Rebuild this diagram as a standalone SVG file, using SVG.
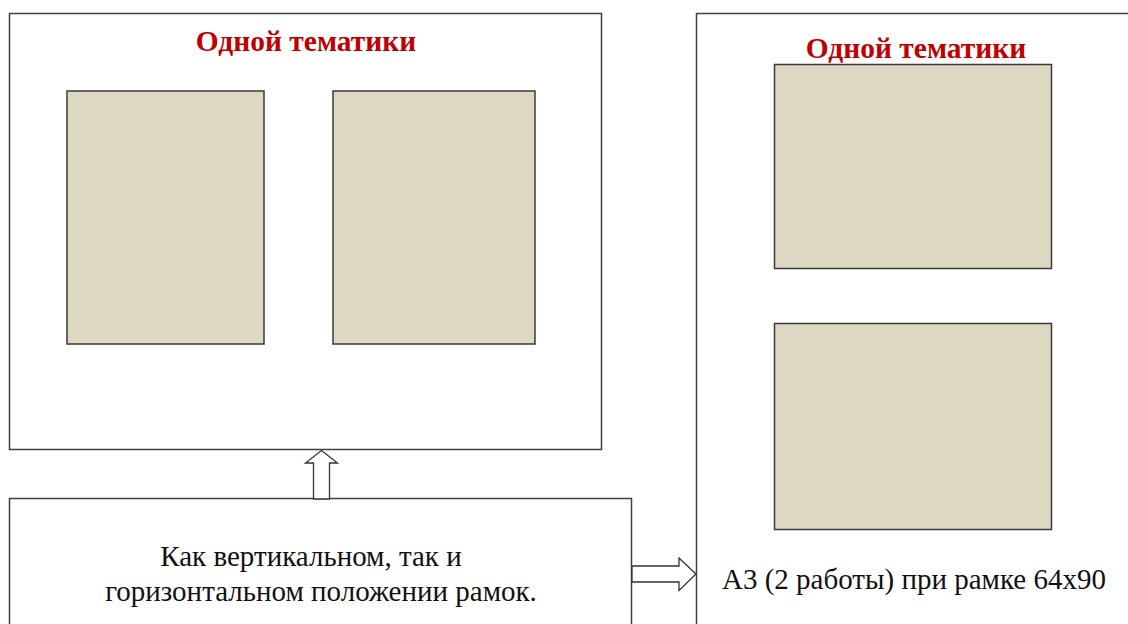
<svg xmlns="http://www.w3.org/2000/svg" width="1128" height="624" viewBox="0 0 1128 624">
<style>
.frame{fill:#fff;stroke:#404040;stroke-width:1.5}
.pic{fill:#DDD8C2;stroke:#3a3a3a;stroke-width:1.5}
.title{font-family:"Liberation Serif","Times New Roman",serif;font-weight:bold;font-size:29.5px;fill:#C00000;text-anchor:middle}
.body{font-family:"Liberation Serif","Times New Roman",serif;font-size:29px;fill:#111}
.arrow{fill:#fff;stroke:#333;stroke-width:1.3}
</style>
<rect width="1128" height="624" fill="#fff"/>
<g id="left-frame">
<rect class="frame" x="9.5" y="13.5" width="592" height="436"/>
<text class="title" x="306" y="51">Одной тематики</text>
</g>
<g id="left-pic1"><rect class="pic" x="67" y="91" width="197" height="253"/></g>
<g id="left-pic2"><rect class="pic" x="333" y="91" width="202" height="253"/></g>
<g id="right-frame">
<rect class="frame" x="696.5" y="13.5" width="440" height="620"/>
<text class="title" x="916" y="58">Одной тематики</text>
<text class="body" x="722" y="589">А3 (2 работы) при рамке 64x90</text>
</g>
<g id="right-pic1"><rect class="pic" x="774.5" y="64.5" width="277" height="204"/></g>
<g id="right-pic2"><rect class="pic" x="774.5" y="323.5" width="277" height="206"/></g>
<g id="bottom-box">
<rect class="frame" x="9.5" y="498.5" width="622" height="140"/>
<text class="body" text-anchor="middle" x="311" y="566">Как вертикальном, так и</text>
<text class="body" text-anchor="middle" x="321" y="601">горизонтальном положении рамок.</text>
</g>
<g id="connectors">
<polygon class="arrow" points="313.5,499 313.5,463 305.5,463 321.5,450.5 337.5,463 329.5,463 329.5,499"/>
<polygon class="arrow" points="632,566 679,566 679,558 696,574 679,590.5 679,582 632,582"/>
</g>
</svg>
